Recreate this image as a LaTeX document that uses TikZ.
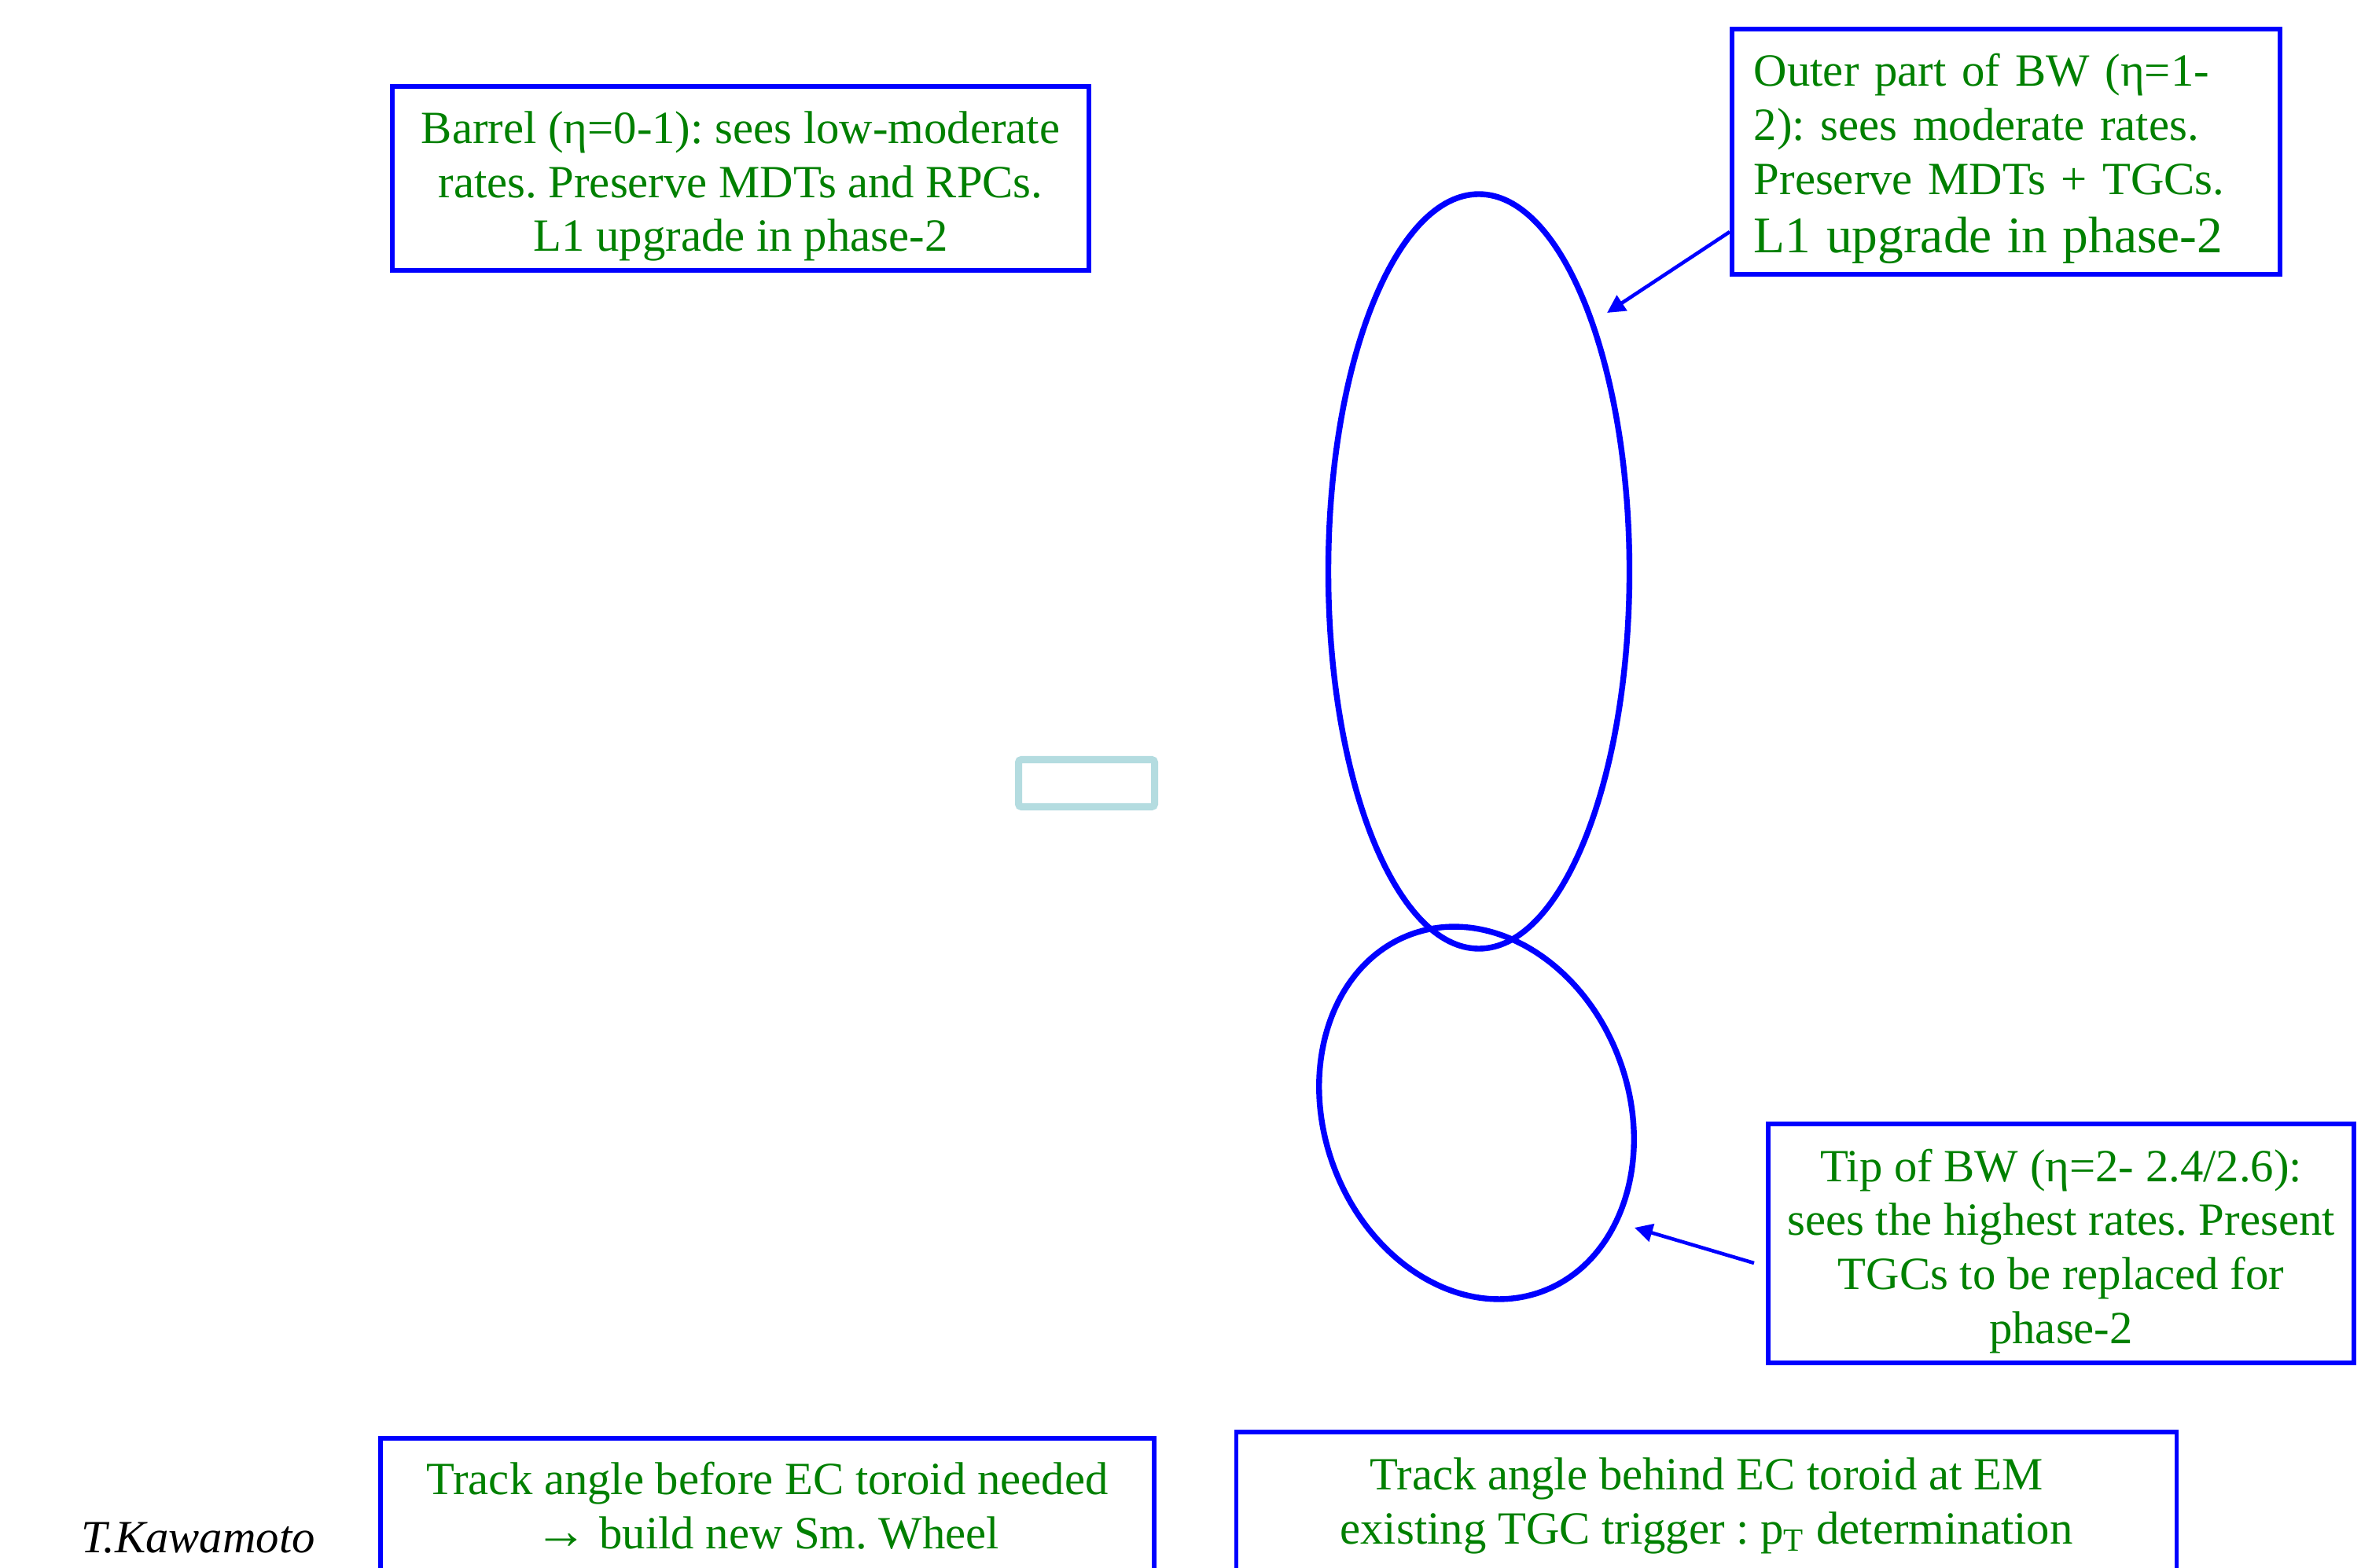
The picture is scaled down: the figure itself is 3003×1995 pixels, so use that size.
\documentclass[tikz,border=0pt]{standalone}
\usepackage{fontspec}
\setmainfont{Liberation Serif}
\usetikzlibrary{arrows.meta,shapes.geometric}
\definecolor{boxblue}{RGB}{0,0,255}
\definecolor{txtgreen}{RGB}{0,128,0}
\definecolor{paleblue}{RGB}{180,220,224}
\begin{document}
\begin{tikzpicture}[x=0.01cm,y=-0.01cm,
  infobox/.style={draw=boxblue, line width=1.6pt, inner sep=0pt},
  boxtext/.style={text=txtgreen, font=\fontsize{16.7}{19.6}\selectfont\frenchspacing,
    inner sep=0pt, align=center},
  conn/.style={draw=boxblue, line width=1.3pt, -{Triangle[length=6.5pt,width=6.5pt]}},
  ring/.style={draw=boxblue, line width=2.1pt}]
\clip (0,0) rectangle (3003,1995);
\fill[white] (0,0) rectangle (3003,1995);

% boxes
\node[infobox, minimum width=8.86cm, minimum height=2.34cm] (barrel) at (942,227) {};
\node[boxtext, yshift=-0.1cm] (barreltxt) at (barrel.center)
  {Barrel (η=0-1): sees low-moderate\\rates. Preserve MDTs and RPCs.\\L1 upgrade in phase-2};

\node[infobox, minimum width=6.97cm, minimum height=3.12cm] (outer) at (2551.5,193) {};
\node[boxtext, align=left, text width=6.41cm, yshift=-0.09cm] (outertxt) at (outer.center)
  {Outer part of BW (η=1-\\2): sees moderate rates.\\Preserve MDTs + TGCs.\\[1.5pt]{\fontsize{18.6}{22.4}\selectfont L1 upgrade in phase-2}};

\node[infobox, minimum width=7.45cm, minimum height=3.04cm] (tip) at (2621.5,1582) {};
\node[boxtext, yshift=-0.1cm] (tiptxt) at (tip.center)
  {Tip of BW (η=2- 2.4/2.6):\\sees the highest rates. Present\\TGCs to be replaced for\\phase-2};

\node[infobox, minimum width=9.84cm, minimum height=1.75cm] (before) at (976,1917.5) {};
\node[boxtext, yshift=0.02cm] (beforetxt) at (before.center)
  {Track angle before EC toroid needed\\{\fontsize{19}{19.6}\selectfont →} build new Sm. Wheel};

\node[infobox, minimum width=11.95cm, minimum height=1.79cm] (behind) at (2170.5,1911.5) {};
\node[boxtext, yshift=-0.04cm] (behindtxt) at (behind.center)
  {Track angle behind EC toroid at EM\\existing TGC trigger : p\textsubscript{T} determination};

\node[font=\fontsize{16.7}{19.6}\selectfont\itshape, inner sep=0pt] (author) at (252,1957) {T.Kawamoto};

% wheel outlines
\draw[ring] (1881,727) ellipse [x radius=191.5, y radius=480];
\draw[ring, rotate around={20:(1878,1416)}] (1878,1416) ellipse [x radius=194, y radius=242];

% small pale rectangle
\draw[paleblue, line width=2.56pt, rounded corners=1pt] (1295.5,966.5) rectangle (1468.5,1026.5);

% connectors
\coordinate (yA) at (0,295);
\coordinate (tipA) at (2044,398);
\coordinate (tailB) at (2231,1607);
\coordinate (tipB) at (2079,1562);
\draw[conn] (outer.west |- yA) -- (tipA);
\draw[conn] (tailB) -- (tipB);
\end{tikzpicture}
\end{document}
